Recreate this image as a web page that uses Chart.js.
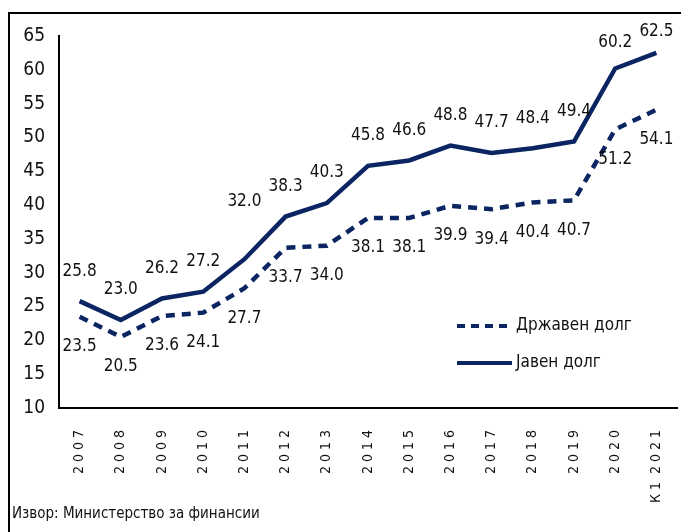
<!DOCTYPE html>
<html>
<head>
<meta charset="utf-8">
<script src="https://cdn.jsdelivr.net/npm/chart.js@4.4.1/dist/chart.umd.min.js"></script>
<style>
  body { margin: 0; background: #fff; }
  #wrap { position: relative; width: 681px; height: 532px; overflow: hidden; }
  #frame { position: absolute; left: 8px; top: 12px; width: 700px; height: 540px;
    border-left: 2px solid #000; border-top: 2px solid #000; }
  #chart { position: absolute; left: 0; top: 0; }
</style>
</head>
<body>
<div id="wrap">
  <div id="frame"></div>
  <canvas id="chart" width="681" height="532"></canvas>
</div>
<script>
const FONT = "'Liberation Sans Narrow', 'DejaVu Sans Condensed', 'Arial Narrow', sans-serif"
const NAVY = '#0b2462'

// categories
const years = ['2 0 0 7', '2 0 0 8', '2 0 0 9', '2 0 1 0', '2 0 1 1', '2 0 1 2', '2 0 1 3',
  '2 0 1 4', '2 0 1 5', '2 0 1 6', '2 0 1 7', '2 0 1 8', '2 0 1 9', '2 0 2 0', 'К 1  2 0 2 1']
// % of GDP
const stateDebt = [23.5, 20.5, 23.6, 24.1, 27.7, 33.7, 34.0, 38.1, 38.1, 39.9, 39.4, 40.4, 40.7, 51.2, 54.1]
const publicDebt = [25.8, 23.0, 26.2, 27.2, 32.0, 38.3, 40.3, 45.8, 46.6, 48.8, 47.7, 48.4, 49.4, 60.2, 62.5]
const seriesNames = ['Државен долг', 'Јавен долг']
const source = 'Извор: Министерство за финансии'

// value labels: dashed series under the line, solid series over it
const valueLabels = {
  id: 'valueLabels',
  afterDatasetsDraw(chart) {
    const ctx = chart.ctx
    ctx.save()
    ctx.font = '17px ' + FONT
    ctx.fillStyle = '#111'
    ctx.textAlign = 'center'
    ctx.textBaseline = 'middle'
    chart.data.datasets.forEach((ds, di) => {
      chart.getDatasetMeta(di).data.forEach((pt, i) => {
        let dy = di === 0 ? 30 : -30
        if (di === 1 && i === 4) dy = -58 // 32.0 sits higher in the original
        if (di === 1 && i === 14) dy = -21
        if (di === 1 && i === 13) dy = -26
        ctx.fillText(ds.data[i].toFixed(1), pt.x, pt.y + dy)
      })
    })
    ctx.restore()
  },
}

// legend inside the plot + source line at the bottom
const extras = {
  id: 'extras',
  afterDraw(chart) {
    const ctx = chart.ctx
    ctx.save()
    ctx.font = '17px ' + FONT
    ctx.fillStyle = '#111'
    ctx.textBaseline = 'middle'
    const rows = [{ y: 326, dash: [8, 6] }, { y: 363, dash: [] }]
    rows.forEach((r, i) => {
      ctx.strokeStyle = NAVY
      ctx.lineWidth = 4
      ctx.setLineDash(r.dash)
      ctx.beginPath()
      ctx.moveTo(457, r.y)
      ctx.lineTo(512, r.y)
      ctx.stroke()
      ctx.setLineDash([])
      ctx.fillText(seriesNames[i], 516, r.y)
    })
    ctx.font = '15px ' + FONT
    ctx.fillText(source, 12, 514)
    ctx.restore()
  },
}

const chart = new Chart(document.getElementById('chart'), {
  type: 'line',
  data: {
    labels: years,
    datasets: [
      {
        label: seriesNames[0],
        data: stateDebt,
        borderColor: NAVY,
        borderWidth: 4.5,
        borderDash: [9, 7],
        pointRadius: 0,
        tension: 0,
      },
      {
        label: seriesNames[1],
        data: publicDebt,
        borderColor: NAVY,
        borderWidth: 4.5,
        pointRadius: 0,
        tension: 0,
      },
    ],
  },
  options: {
    responsive: false,
    animation: false,
    layout: { padding: { top: 36, right: 4, left: 0, bottom: 0 } },
    plugins: {
      legend: { display: false },
      tooltip: { enabled: false },
    },
    scales: {
      x: {
        offset: true,
        grid: { display: false, drawTicks: false },
        border: { color: '#000', width: 2 },
        ticks: {
          color: '#111',
          font: { family: FONT, size: 14 },
          minRotation: 90,
          maxRotation: 90,
          padding: 22,
          autoSkip: false,
        },
        afterFit: scale => {
          scale.height = 124
          scale.paddingLeft = 0
          scale.paddingRight = 0
        },
      },
      y: {
        min: 10,
        max: 65,
        grid: { display: false, drawTicks: false },
        border: { color: '#000', width: 2 },
        ticks: {
          stepSize: 5,
          color: '#111',
          font: { family: FONT, size: 19 },
          padding: 14,
        },
        afterFit: scale => { scale.width = 59 },
      },
    },
  },
  plugins: [valueLabels, extras],
})
</script>
</body>
</html>
